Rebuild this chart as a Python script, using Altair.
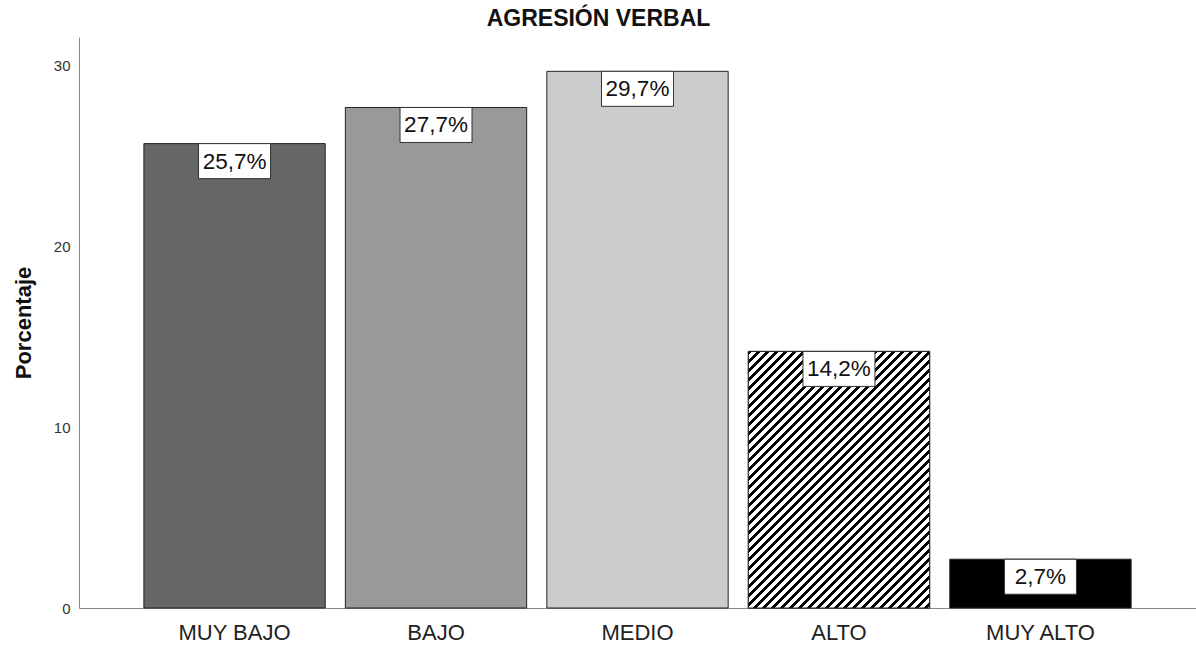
import altair as alt
import pandas as pd

# Datos del gráfico
categorias = ["MUY BAJO", "BAJO", "MEDIO", "ALTO", "MUY ALTO"]
porcentajes = [25.7, 27.7, 29.7, 14.2, 2.7]
rellenos = ["#666666", "#999999", "#cccccc", "#ffffff", "#000000"]
ticks_y = [0, 10, 20, 30]

# Geometría del área de trazado
W, H = 1117, 571
Y_MAX = 31.6
PAD_INNER, PAD_OUTER = 0.1, 0.322
FUENTE = "Liberation Sans"

df = pd.DataFrame({"categoria": categorias, "porcentaje": porcentajes, "relleno": rellenos})
df["etiqueta"] = [f"{v:.1f}".replace(".", ",") + "%" for v in porcentajes]

# Rayado diagonal de la barra ALTO: degradado lineal con cortes bruscos,
# orientado para que las franjas queden a 45° en píxeles.
paso = W / (len(categorias) - PAD_INNER + 2 * PAD_OUTER)
ancho_barra = paso * (1 - PAD_INNER)
alto_barra = porcentajes[categorias.index("ALTO")] / Y_MAX * H
suma = ancho_barra + alto_barra
c = suma / (ancho_barra ** 2 + alto_barra ** 2)
periodo = 9.0      # separación horizontal entre franjas, en px
fraccion_negra = 0.45
paradas = []
i = 0
while i * periodo < suma:
    t0 = min(i * periodo / suma, 1.0)
    t1 = min((i + fraccion_negra) * periodo / suma, 1.0)
    t2 = min((i + 1) * periodo / suma, 1.0)
    paradas += [
        alt.GradientStop(offset=t0, color="#000000"),
        alt.GradientStop(offset=t1, color="#000000"),
        alt.GradientStop(offset=t1, color="#ffffff"),
        alt.GradientStop(offset=t2, color="#ffffff"),
    ]
    i += 1
rayado = alt.LinearGradient(
    gradient="linear", stops=paradas, x1=0, y1=0, x2=c * ancho_barra, y2=c * alto_barra
)

x_enc = alt.X(
    "categoria:N",
    sort=categorias,
    scale=alt.Scale(domain=categorias, paddingInner=PAD_INNER, paddingOuter=PAD_OUTER),
    axis=alt.Axis(
        title=None, labelAngle=0, labelFontSize=22, labelFont=FUENTE, labelColor="#222222",
        labelPadding=14, ticks=False, tickSize=0, domainColor="#888888", grid=False,
    ),
)
y_enc = alt.Y(
    "porcentaje:Q",
    scale=alt.Scale(domain=[0, Y_MAX], nice=False, zero=True),
    axis=alt.Axis(
        title="Porcentaje", values=ticks_y, labelFontSize=15, labelFont=FUENTE,
        labelColor="#333333", labelPadding=9, ticks=False, tickSize=0,
        domainColor="#888888", grid=False,
        titleFontSize=22, titleFont=FUENTE, titleFontWeight="bold", titleColor="#111111",
        titleAngle=-90, titleX=-49, titleY=H / 2, titleAlign="center",
        titleBaseline="alphabetic",
    ),
)

base = alt.Chart(df)

barras = base.mark_bar(stroke="#222222", strokeWidth=1).encode(
    x=x_enc, y=y_enc, color=alt.Color("relleno:N", scale=None)
)

barra_rayada = base.transform_filter(alt.datum.categoria == "ALTO").mark_bar(
    fill=rayado, stroke="#222222", strokeWidth=1
).encode(x=x_enc, y=y_enc)

cajas = base.mark_bar(
    width=72, fill="#ffffff", stroke="#333333", strokeWidth=1, y2Offset=35
).encode(x=x_enc, y=y_enc, y2=alt.Y2("porcentaje:Q"))

textos = base.mark_text(
    dy=18, fontSize=22.5, font=FUENTE, color="#111111", baseline="middle", align="center"
).encode(x=x_enc, y=y_enc, text="etiqueta:N")

chart = (
    alt.layer(barras, barra_rayada, cajas, textos)
    .properties(
        width=W,
        height=H,
        autosize=alt.AutoSizeParams(type="none"),
        padding={"left": 79, "top": 37, "right": 0, "bottom": 37},
        title=alt.TitleParams(
            "AGRESIÓN VERBAL", fontSize=23, fontWeight="bold", font=FUENTE,
            color="#111111", anchor="middle", dx=-39, dy=22, offset=10,
            baseline="alphabetic",
        ),
    )
    .configure(background="#ffffff")
    .configure_view(stroke=None)
)

chart.save("out.html", embed_options={"renderer": "svg", "actions": False})
